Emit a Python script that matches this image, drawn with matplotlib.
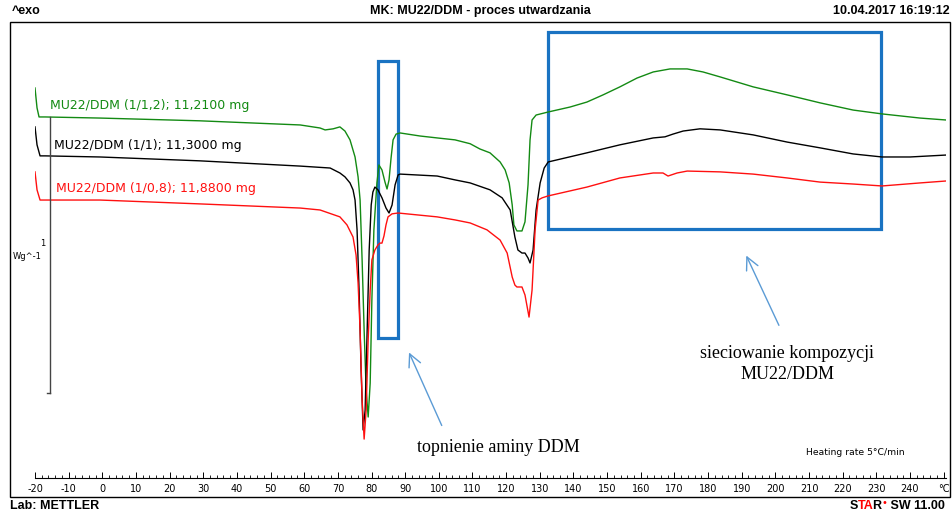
import matplotlib
matplotlib.use("Agg")
import matplotlib.pyplot as plt
from matplotlib.patches import Rectangle

W, H = 953, 513

# DSC curves: temperature in °C, heat flow in W/g (offset per curve)
temp_green = [-20, -19.4, -18.8, -17.0, -0.7, 29.0, 58.8, 64.7, 66.2, 68.6, 70.6, 72.1, 73.6,
              75.1, 76.0, 76.6, 77.2, 77.8, 78.4, 79.0, 79.6, 80.1, 80.7, 81.6, 82.2, 83.1,
              84.0, 84.6, 85.2, 85.8, 86.4, 87.3, 88.5, 94.4, 99.5, 104.8, 109.3, 112.2, 115.2,
              118.2, 119.7, 120.9, 121.8, 122.3, 123.2, 124.7, 125.6, 126.5, 127.1, 127.7,
              128.9, 132.5, 139.0, 144.0, 148.8, 153.8, 158.9, 163.7, 168.7, 173.8, 178.5,
              183.6, 193.4, 203.5, 213.3, 223.1, 231.7, 243.0, 250.7]
hf_green = [1.105, 1.033, 1.000, 1.000, 0.996, 0.986, 0.971, 0.960, 0.953, 0.957, 0.964, 0.949,
            0.917, 0.855, 0.783, 0.699, 0.482, 0.228, 0.011, -0.087, 0.036, 0.337, 0.591,
            0.761, 0.826, 0.808, 0.764, 0.739, 0.772, 0.851, 0.917, 0.938, 0.942, 0.931,
            0.924, 0.917, 0.903, 0.884, 0.870, 0.837, 0.808, 0.761, 0.681, 0.609, 0.587,
            0.587, 0.620, 0.754, 0.917, 0.989, 1.007, 1.018, 1.036, 1.054, 1.080, 1.109,
            1.141, 1.163, 1.174, 1.174, 1.163, 1.145, 1.109, 1.080, 1.051, 1.025, 1.011,
            0.996, 0.989]

temp_black = [-20, -19.4, -18.5, -17.0, -0.7, 29.0, 58.8, 67.7, 70.6, 72.1, 73.6, 74.5, 75.1,
              75.7, 76.3, 76.9, 77.5, 78.1, 78.7, 79.3, 79.9, 80.4, 81.0, 81.9, 83.1, 84.3,
              85.2, 86.1, 87.0, 87.9, 88.5, 99.5, 104.8, 109.3, 115.2, 118.8, 121.2, 122.6,
              123.5, 124.7, 125.6, 126.5, 127.1, 128.0, 128.9, 130.1, 131.3, 132.5, 144.0,
              153.8, 163.7, 167.2, 169.6, 172.6, 177.6, 183.6, 193.4, 203.5, 213.3, 223.1,
              231.7, 240.0, 250.7]
hf_black = [0.964, 0.899, 0.859, 0.859, 0.855, 0.841, 0.822, 0.815, 0.797, 0.783, 0.761, 0.736,
            0.699, 0.591, 0.373, 0.083, -0.134, -0.062, 0.228, 0.518, 0.681, 0.728, 0.746,
            0.736, 0.707, 0.670, 0.652, 0.681, 0.754, 0.790, 0.793, 0.786, 0.772, 0.761,
            0.736, 0.707, 0.663, 0.565, 0.518, 0.507, 0.507, 0.489, 0.471, 0.518, 0.663,
            0.761, 0.815, 0.837, 0.870, 0.899, 0.924, 0.928, 0.938, 0.949, 0.957, 0.953,
            0.935, 0.909, 0.888, 0.866, 0.855, 0.855, 0.862]

temp_red = [-20, -19.4, -18.5, -17.0, -0.7, 29.0, 58.8, 64.7, 70.6, 72.7, 74.5, 75.4, 76.0,
            76.6, 77.2, 77.8, 78.4, 79.0, 79.6, 80.1, 81.0, 81.9, 82.5, 83.1, 83.7, 84.3,
            84.9, 86.1, 87.9, 99.5, 104.8, 109.3, 114.3, 118.2, 120.3, 121.8, 122.6, 123.2,
            124.7, 125.6, 126.8, 127.7, 128.6, 129.5, 130.7, 132.5, 144.0, 153.8, 163.7,
            166.6, 168.1, 170.8, 173.8, 183.6, 193.4, 203.5, 213.3, 223.1, 231.7, 243.0, 250.7]
hf_red = [0.801, 0.736, 0.699, 0.699, 0.699, 0.685, 0.670, 0.663, 0.638, 0.609, 0.565, 0.500,
          0.399, 0.228, -0.025, -0.167, -0.062, 0.192, 0.373, 0.482, 0.518, 0.536, 0.543,
          0.543, 0.569, 0.609, 0.638, 0.649, 0.652, 0.638, 0.627, 0.616, 0.591, 0.554,
          0.507, 0.420, 0.391, 0.384, 0.384, 0.355, 0.275, 0.373, 0.591, 0.699, 0.707,
          0.714, 0.746, 0.779, 0.797, 0.797, 0.786, 0.797, 0.804, 0.801, 0.793, 0.779,
          0.764, 0.757, 0.750, 0.761, 0.768]

labels = ["MU22/DDM (1/1,2); 11,2100 mg", "MU22/DDM (1/1); 11,3000 mg", "MU22/DDM (1/0,8); 11,8800 mg"]
colors = ["#138a13", "black", "#ff1010"]

major_ticks = list(range(-20, 250, 10))
tick_labels = [str(t) for t in major_ticks] + ["°C"]

fig = plt.figure(figsize=(W / 100, H / 100), dpi=100)
ax = fig.add_axes([35 / W, 1 - 478 / H, 911 / W, 456 / H])
ax.set_xlim(-20, 250.7)
ax.set_ylim(-0.308, 1.344)

curves = [(temp_green, hf_green), (temp_black, hf_black), (temp_red, hf_red)]
for (t, hf), c in zip(curves, colors):
    ax.plot(t, hf, color=c, lw=1.0)

# curve captions
ax.text(-15.5, 1.043, labels[0], color=colors[0], fontsize=9, va="center")
ax.text(-14.4, 0.895, labels[1], color=colors[1], fontsize=9, va="center")
ax.text(-13.8, 0.739, labels[2], color=colors[2], fontsize=9, va="center")

# scale bar 1 W/g
ax.plot([-15.5, -15.5], [0, 1], color="#444444", lw=1.0)
ax.plot([-16.4, -15.5], [0, 0], color="#444444", lw=1.0)
ax.text(-17.6, 0.543, "1", fontsize=6, ha="center", va="center")
ax.text(-17.9, 0.496, "Wg^-1", fontsize=6, ha="right", va="center")

# annotation boxes and arrows
blue = "#1a73c2"
ax.add_patch(Rectangle((81.9, 0.199), 6.0, 1.004, fill=False, ec=blue, lw=2.3))
ax.add_patch(Rectangle((132.5, 0.594), 98.9, 0.714, fill=False, ec=blue, lw=2.3))
arrow = dict(arrowstyle="->,head_length=0.9,head_width=0.45", color="#5b9bd5", lw=1.0)
ax.annotate("", xy=(90.8, 0.156), xytext=(101.2, -0.127), arrowprops=arrow)
ax.annotate("", xy=(191.0, 0.507), xytext=(201.4, 0.236), arrowprops=arrow)
ax.text(117.6, -0.199, "topnienie aminy DDM", family="Liberation Serif", fontsize=13,
        ha="center", va="center")
ax.text(203.5, 0.105, "sieciowanie kompozycji\nMU22/DDM", family="Liberation Serif",
        fontsize=13, ha="center", va="center", linespacing=1.3)
ax.text(209.1, -0.214, "Heating rate 5°C/min", fontsize=6.7, va="center")

# axis styling
for s in ("top", "right", "left"):
    ax.spines[s].set_visible(False)
ax.spines["bottom"].set_linewidth(0.8)
ax.set_yticks([])
ax.set_xticks(major_ticks + [250])
ax.set_xticklabels(tick_labels)
ax.set_xticks(range(-20, 251, 2), minor=True)
ax.tick_params(axis="x", which="major", direction="in", length=4, width=0.7, labelsize=7, pad=4)
ax.tick_params(axis="x", which="minor", direction="in", length=2.5, width=0.6)

# outer frame and header/footer
fig.add_artist(Rectangle((10 / W, 1 - 497 / H), 940 / W, 475 / H, fill=False, ec="black",
                         lw=1.0, transform=fig.transFigure))
hdr = dict(fontsize=9, fontweight="bold", family="Liberation Sans", va="center")
fig.text(12 / W, 1 - 11 / H, "^exo", ha="left", **hdr)
fig.text(480 / W, 1 - 11 / H, "MK: MU22/DDM - proces utwardzania", ha="center", **hdr)
fig.text(950 / W, 1 - 11 / H, "10.04.2017 16:19:12", ha="right", **hdr)

ftr = dict(fontsize=9, fontweight="bold", family="Liberation Sans")
fig.text(10 / W, 1 - 506 / H, "Lab: METTLER", ha="left", va="center", **ftr)
t1 = fig.text(850 / W, 1 - 512 / H, "S", ha="left", va="bottom", **ftr)
t2 = ax.annotate("TA", xy=(1, 0), xycoords=t1, color="red", va="bottom", **ftr)
t3 = ax.annotate("R", xy=(1, 0), xycoords=t2, xytext=(-1.5, 0), textcoords="offset points",
                 va="bottom", **ftr)
ax.annotate("•", xy=(1, 0.35), xycoords=t3, color="red", fontsize=7, va="bottom")
ax.annotate(" SW 11.00", xy=(1, 0), xycoords=t3, xytext=(4, 0), textcoords="offset points",
            va="bottom", **ftr)

fig.savefig("out.png", dpi=100)
